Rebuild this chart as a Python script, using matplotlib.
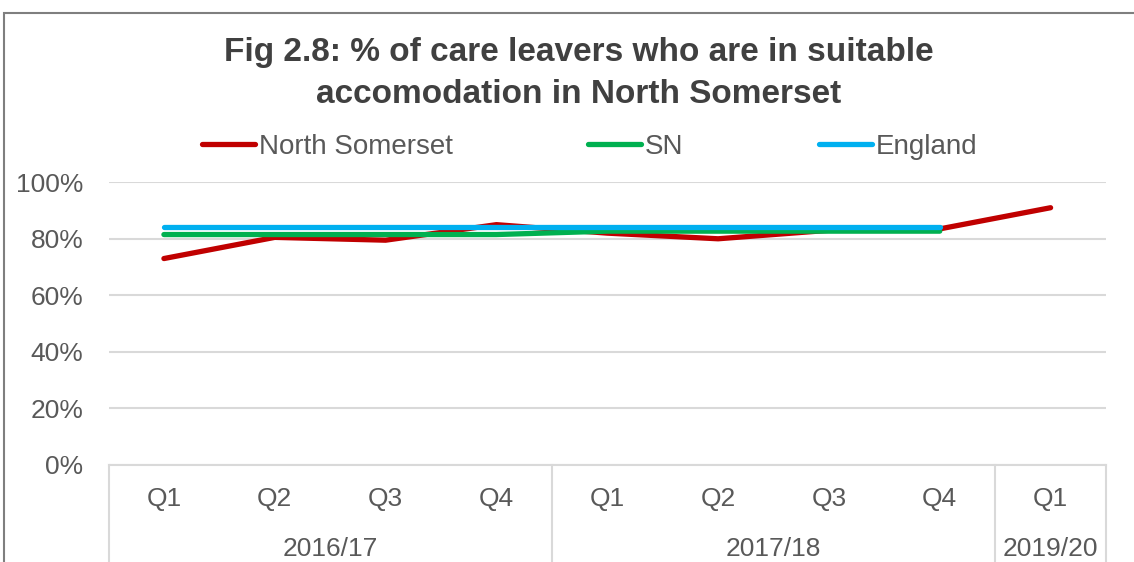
import numpy as np
import matplotlib
matplotlib.use("Agg")
import matplotlib.pyplot as plt
from matplotlib.transforms import blended_transform_factory
from matplotlib.patches import Rectangle

plt.rcParams['font.family'] = ['Liberation Sans', 'DejaVu Sans']

# Chart data
quarters = ['Q1', 'Q2', 'Q3', 'Q4', 'Q1', 'Q2', 'Q3', 'Q4', 'Q1']
years = ['2016/17', '2017/18', '2019/20']
year_spans = [4, 4, 1]
north_somerset = [73, 80.5, 79.5, 85, 82, 80, 83, 83.5, 91]
sn = [81.5, 81.5, 81.5, 81.5, 82.7, 82.7, 82.7, 82.7, np.nan]
england = [84, 84, 84, 84, 84, 84, 84, 84, np.nan]

series = [
    ('North Somerset', north_somerset, '#C00000'),
    ('SN', sn, '#00B050'),
    ('England', england, '#00B0F0'),
]

W, H = 1134, 562
fig = plt.figure(figsize=(W / 100, H / 100), dpi=100)
fig.patch.set_facecolor('white')

# outer chart frame
fig.patches.append(Rectangle((4 / W, -0.05), 1.2, 1 - 13 / H + 0.05,
                             transform=fig.transFigure, fill=False,
                             edgecolor='#7f7f7f', linewidth=1.5))

left, right = 108.5 / W, 1106 / W
bottom, top = 1 - 464.7 / H, 1 - 182.3 / H
ax = fig.add_axes([left, bottom, right - left, top - bottom])

x = np.arange(len(quarters))
for name, vals, color in series:
    ax.plot(x, vals, color=color, linewidth=3.8, solid_capstyle='round',
            solid_joinstyle='round', label=name, zorder=3)

LABEL_SIZE = 19
TEXT_COLOR = '#595959'

ax.set_xlim(-0.5, len(quarters) - 0.5)
ax.set_ylim(0, 100)
ax.set_yticks(np.arange(0, 101, 20))
ax.set_yticklabels([f'{v}%' for v in range(0, 101, 20)])
ax.tick_params(axis='y', length=0, pad=18, labelsize=LABEL_SIZE,
               labelcolor=TEXT_COLOR)
ax.set_xticks([])
ax.grid(axis='y', color='#d9d9d9', linewidth=1.5)
ax.set_axisbelow(True)
for s in ['top', 'right', 'left']:
    ax.spines[s].set_visible(False)
ax.spines['bottom'].set_color('#d9d9d9')
ax.spines['bottom'].set_linewidth(1.5)

# multi-level category axis
trans = blended_transform_factory(ax.transData, ax.transAxes)
for i, q in enumerate(quarters):
    ax.text(i, -0.122, q, transform=trans, ha='center', va='center',
            fontsize=LABEL_SIZE, color=TEXT_COLOR)

bounds = np.concatenate([[0], np.cumsum(year_spans)]) - 0.5
for i, yr in enumerate(years):
    ax.text((bounds[i] + bounds[i + 1]) / 2, -0.298, yr, transform=trans,
            ha='center', va='center', fontsize=LABEL_SIZE, color=TEXT_COLOR)
for b in bounds:
    ax.plot([b, b], [0, -0.5], transform=trans, color='#d9d9d9',
            linewidth=1.5, clip_on=False, zorder=1)

fig.text(0.51, 1 - 73.5 / H,
         'Fig 2.8: % of care leavers who are in suitable\naccomodation in North Somerset',
         ha='center', va='center', fontsize=24, fontweight='bold',
         color='#404040', linespacing=1.42)

leg = fig.legend(loc='center', bbox_to_anchor=(0.52, 1 - 147 / H), ncol=3,
                 frameon=False, fontsize=20, handlelength=1.9,
                 handletextpad=0.12, columnspacing=4.9)
for t in leg.get_texts():
    t.set_color(TEXT_COLOR)

fig.savefig('out.png', dpi=100, facecolor='white')
